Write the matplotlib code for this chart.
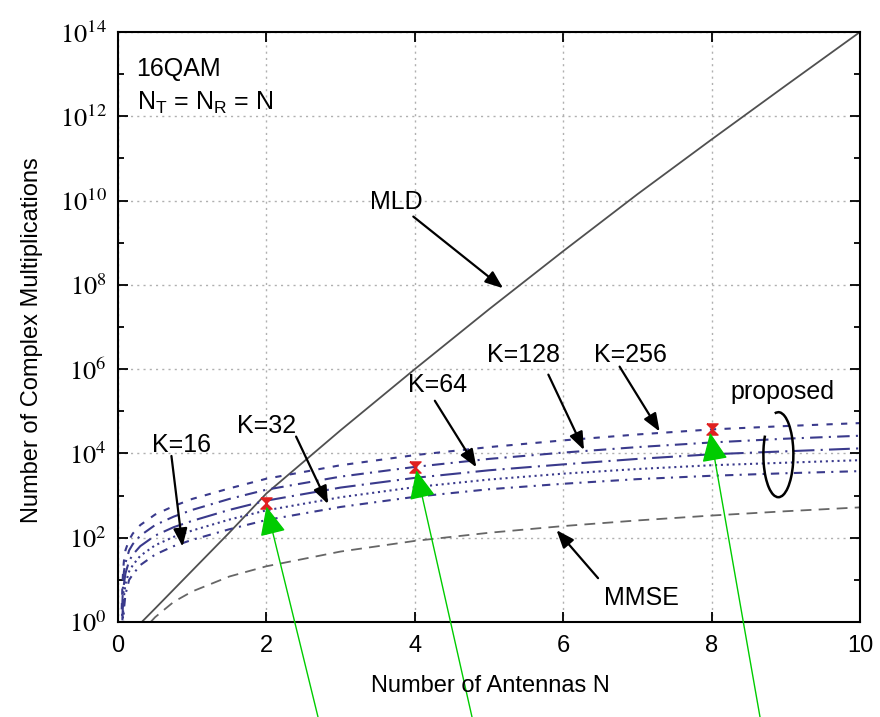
import numpy as np
import matplotlib.pyplot as plt
from matplotlib.patches import Arc

plt.rcParams['font.family'] = ['Liberation Sans', 'DejaVu Sans']
plt.rcParams['mathtext.fontset'] = 'custom'
plt.rcParams['mathtext.rm'] = 'Liberation Sans'

# MLD (solid), exponents of 10
n_mld = [0.32, 0.5, 0.8, 1, 1.5, 2, 3, 4, 5, 6, 7, 8, 9, 10]
mld_exp = [0.0, 0.32, 0.86, 1.22, 2.12, 3.05, 4.55, 6.0, 7.42, 8.8, 10.15, 11.45, 12.73, 14.0]

# MMSE (dashed)
n_mmse = [0.44, 0.5, 0.75, 1, 1.5, 2, 3, 4, 5, 6, 7, 8, 9, 10]
mmse_val = [1, 1.3, 3, 5.3, 12, 21, 47, 84, 131, 189, 257, 336, 425, 525]

# proposed, one curve per K
n_prop = [0.05, 0.06, 0.07, 0.08, 0.1, 0.15, 0.2, 0.3, 0.5, 0.75, 1, 1.5, 2, 3, 4, 5, 6, 7, 8, 9, 10]
k256_exp = [0.3, 0.9, 1.25, 1.45, 1.7, 1.95, 2.1, 2.3, 2.55, 2.75, 2.92, 3.17, 3.40, 3.72, 3.96, 4.15, 4.31, 4.45, 4.57, 4.65, 4.72]
k128_exp = [-0.3, 0.5, 0.95, 1.2, 1.4, 1.7, 1.85, 2.05, 2.3, 2.5, 2.66, 2.92, 3.14, 3.45, 3.68, 3.87, 4.02, 4.15, 4.26, 4.35, 4.42]
k64_exp = [-0.8, 0.1, 0.6, 0.9, 1.15, 1.45, 1.6, 1.8, 2.05, 2.25, 2.4, 2.66, 2.88, 3.19, 3.42, 3.6, 3.74, 3.87, 3.98, 4.05, 4.12]
k32_exp = [-1.3, -0.3, 0.3, 0.6, 0.9, 1.2, 1.35, 1.57, 1.82, 2.02, 2.17, 2.43, 2.65, 2.96, 3.20, 3.38, 3.52, 3.63, 3.72, 3.78, 3.84]
k16_exp = [-1.8, -0.8, -0.1, 0.3, 0.65, 1.0, 1.13, 1.35, 1.6, 1.8, 1.95, 2.2, 2.42, 2.73, 2.97, 3.15, 3.28, 3.39, 3.47, 3.53, 3.58]

# red points
n_pts = [2, 4, 8]
pts_exp = [2.82, 3.68, 4.57]

navy = '#3a3a8c'

fig = plt.figure(figsize=(8.8, 7.17), dpi=100)
ax = fig.add_axes([118/880, 1-622/717, 742/880, 590/717])

ax.plot(n_mld, 10.0**np.array(mld_exp), color='#505050', lw=1.3)
ax.plot(n_mmse, mmse_val, color='#666666', lw=1.3, ls=(0, (6, 4)))

styles = [(0, (3, 4)), (0, (6, 3, 1, 3)), (0, (10, 3, 1, 3)), (0, (1, 1.8)), (0, (4, 3, 1, 3))]
for ys, st in zip([k256_exp, k128_exp, k64_exp, k32_exp, k16_exp], styles):
    ax.plot(n_prop, 10.0**np.array(ys), color=navy, lw=1.5, ls=st)

hourglass = [(-1, 1), (1, 1), (-1, -1), (1, -1), (-1, 1)]
ax.plot(n_pts, 10.0**np.array(pts_exp), ls='none', marker=hourglass, ms=8,
        color='#e02020', mec='#e02020')

ax.set_yscale('log')
ax.set_xlim(0, 10)
ax.set_ylim(1, 1e14)
ax.set_xticks(range(0, 11, 2))
ax.set_xticklabels([str(v) for v in range(0, 11, 2)], fontsize=17)
ax.set_yticks([10.0**k for k in range(0, 15, 2)])
ax.set_yticklabels([r'$10^{%d}$' % k for k in range(0, 15, 2)], fontsize=19)
for t in ax.get_yticklabels():
    t.set_math_fontfamily('stix')
ax.set_yticks([10.0**k for k in range(1, 15, 2)], minor=True)
ax.yaxis.set_minor_formatter(plt.NullFormatter())
ax.tick_params(which='both', direction='in', top=True, right=True, width=1.3)
ax.tick_params(which='major', length=7)
ax.tick_params(which='minor', length=4)
ax.tick_params(axis='x', pad=9)
ax.tick_params(axis='y', pad=8)
ax.grid(True, which='major', color='#b0b0b0', ls=(0, (1.5, 3)), lw=1)
for s in ax.spines.values():
    s.set_linewidth(1.5)

fig.text(490/880, 1-686/717, 'Number of Antennas N', fontsize=17, ha='center', va='center')
fig.text(32/880, 1-340/717, 'Number of Complex Multiplications', fontsize=17,
         ha='center', va='center', rotation=90)

ax.text(0.25, 10**12.95, '16QAM', fontsize=18, va='baseline')
ax.text(0.25, 10**12.15, r'N$_\mathrm{T}$ = N$_\mathrm{R}$ = N', fontsize=18, va='baseline')

blk = dict(arrowstyle='-|>,head_length=0.9,head_width=0.35', color='black', lw=1.6,
           shrinkA=0, shrinkB=0, mutation_scale=12)
labels = [
    ('MLD', (3.75, 10**9.97), (3.98, 10**9.62), (5.19, 10**7.92)),
    ('K=16', (0.86, 10**4.2), (0.72, 10**3.94), (0.87, 10**1.79)),
    ('K=32', (2.0, 10**4.65), (2.4, 10**4.4), (2.83, 10**2.8)),
    ('K=64', (4.31, 10**5.62), (4.27, 10**5.25), (4.83, 10**3.67)),
    ('K=128', (5.46, 10**6.34), (5.8, 10**5.87), (6.28, 10**4.08)),
    ('K=256', (6.9, 10**6.34), (6.76, 10**6.06), (7.3, 10**4.52)),
    ('MMSE', (7.06, 10**0.56), (6.47, 10**1.04), (5.91, 10**2.18)),
]
for txt, tpos, astart, aend in labels:
    ax.text(tpos[0], tpos[1], txt, fontsize=18, ha='center', va='center')
    ax.annotate('', xy=aend, xytext=astart, arrowprops=blk)

ax.text(8.96, 10**5.46, 'proposed', fontsize=18, ha='center', va='center')

# loop around the proposed curves
fig.canvas.draw()
cx, cy = ax.transData.transform((8.9, 10**3.97))
loop = Arc((cx, cy), 30, 85, theta1=125, theta2=455, transform=None,
           color='black', lw=1.8, clip_on=False)
fig.add_artist(loop)

# green arrows pointing at the red points
grn = dict(arrowstyle='-|>,head_length=1.0,head_width=0.45', color='#00cc00', lw=1.0,
           shrinkA=0, shrinkB=0, mutation_scale=18)
tails = [318, 472, 760]
tips = [(2.0, 10**2.74), (4.02, 10**3.6), (7.98, 10**4.49)]
for tx, tip in zip(tails, tips):
    ax.annotate('', xy=tip, xycoords='data', xytext=(tx, 0), textcoords='figure pixels',
                arrowprops=grn, annotation_clip=False)

fig.savefig('out.png', dpi=100)
